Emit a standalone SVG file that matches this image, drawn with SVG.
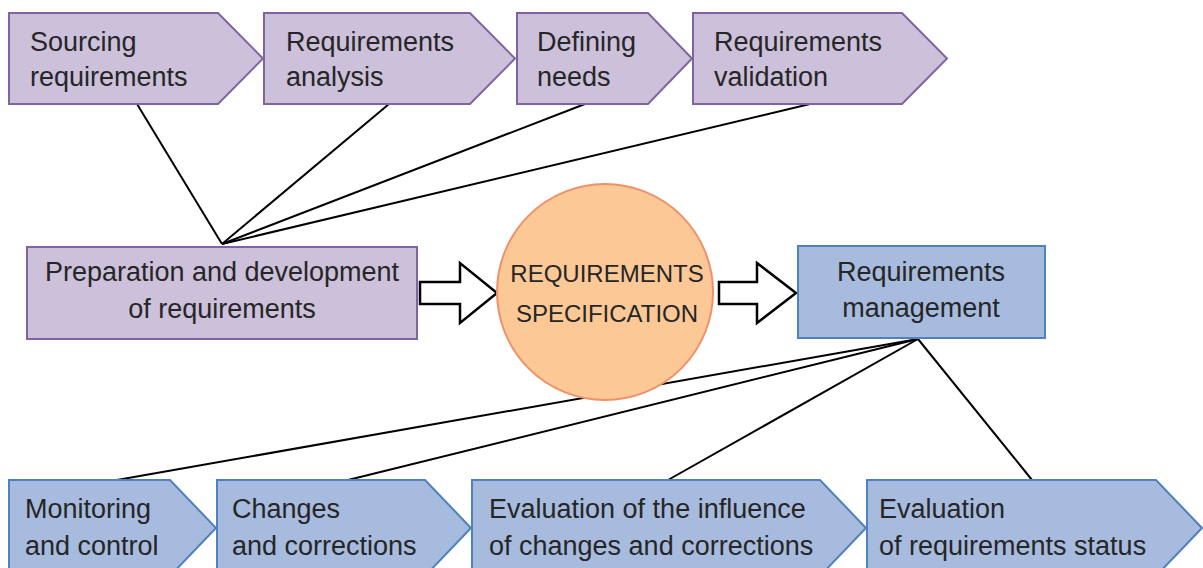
<svg xmlns="http://www.w3.org/2000/svg" width="1203" height="568" viewBox="0 0 1203 568">
  <style>
    text { font-family: "Liberation Sans", Arial, sans-serif; font-size: 27px; fill: #262626; }
    .mid { text-anchor: middle; }
    .caps { font-size: 24px; }
    .purple { fill: #ccc0da; stroke: #8064a2; stroke-width: 2; }
    .blue { fill: #a6bbde; stroke: #4f81bd; stroke-width: 2; }
    .orange { fill: #fbc896; stroke: #f0906a; stroke-width: 2; }
    .hollow { fill: #ffffff; stroke: #000000; stroke-width: 2.5; }
    .link { stroke: #000000; stroke-width: 2; fill: none; }
  </style>

  <!-- connectors -->
  <g id="connectors">
    <line class="link" x1="222" y1="244" x2="137" y2="104"/>
    <line class="link" x1="222" y1="244" x2="389" y2="104"/>
    <line class="link" x1="222" y1="244" x2="585" y2="104"/>
    <line class="link" x1="222" y1="244" x2="810" y2="104"/>
    <line class="link" x1="918" y1="339" x2="117" y2="480"/>
    <line class="link" x1="918" y1="339" x2="348" y2="480"/>
    <line class="link" x1="918" y1="339" x2="668" y2="480"/>
    <line class="link" x1="918" y1="339" x2="1032" y2="480"/>
    <polygon class="hollow" points="420,282 460,282 460,263 497,293 460,323 460,304 420,304"/>
    <polygon class="hollow" points="719,282 757,282 757,263 796,293 757,323 757,304 719,304"/>
  </g>

  <!-- top row: development steps -->
  <g id="sourcing">
    <polygon class="purple" points="9,13 218,13 263,58.5 218,104 9,104"/>
    <text x="30" y="51">Sourcing</text>
    <text x="30" y="86">requirements</text>
  </g>
  <g id="analysis">
    <polygon class="purple" points="264,13 470,13 515,58.5 470,104 264,104"/>
    <text x="286" y="51">Requirements</text>
    <text x="286" y="86">analysis</text>
  </g>
  <g id="needs">
    <polygon class="purple" points="517,13 648,13 692,58.5 648,104 517,104"/>
    <text x="537" y="51">Defining</text>
    <text x="537" y="86">needs</text>
  </g>
  <g id="validation">
    <polygon class="purple" points="693,13 902,13 947,58.5 902,104 693,104"/>
    <text x="714" y="51">Requirements</text>
    <text x="714" y="86">validation</text>
  </g>

  <!-- middle row -->
  <g id="preparation">
    <rect class="purple" x="27" y="247" width="390" height="92"/>
    <text class="mid" x="222" y="281">Preparation and development</text>
    <text class="mid" x="222" y="318">of requirements</text>
  </g>
  <g id="specification">
    <circle class="orange" cx="605" cy="292" r="108"/>
    <text class="mid caps" x="607" y="282">REQUIREMENTS</text>
    <text class="mid caps" x="607" y="322">SPECIFICATION</text>
  </g>
  <g id="management">
    <rect class="blue" x="798" y="246" width="247" height="92"/>
    <text class="mid" x="921" y="281">Requirements</text>
    <text class="mid" x="921" y="317">management</text>
  </g>

  <!-- bottom row: management steps -->
  <g id="monitoring">
    <polygon class="blue" points="9,480 170,480 216,528 170,576 9,576"/>
    <text x="25" y="518">Monitoring</text>
    <text x="25" y="555">and control</text>
  </g>
  <g id="changes">
    <polygon class="blue" points="217,480 425,480 471,528 425,576 217,576"/>
    <text x="232" y="518">Changes</text>
    <text x="232" y="555">and corrections</text>
  </g>
  <g id="influence">
    <polygon class="blue" points="472,480 820,480 866,528 820,576 472,576"/>
    <text x="489" y="518">Evaluation of the influence</text>
    <text x="489" y="555">of changes and corrections</text>
  </g>
  <g id="status">
    <polygon class="blue" points="867,480 1156,480 1202,528 1156,576 867,576"/>
    <text x="879" y="518">Evaluation</text>
    <text x="879" y="555">of requirements status</text>
  </g>
</svg>
